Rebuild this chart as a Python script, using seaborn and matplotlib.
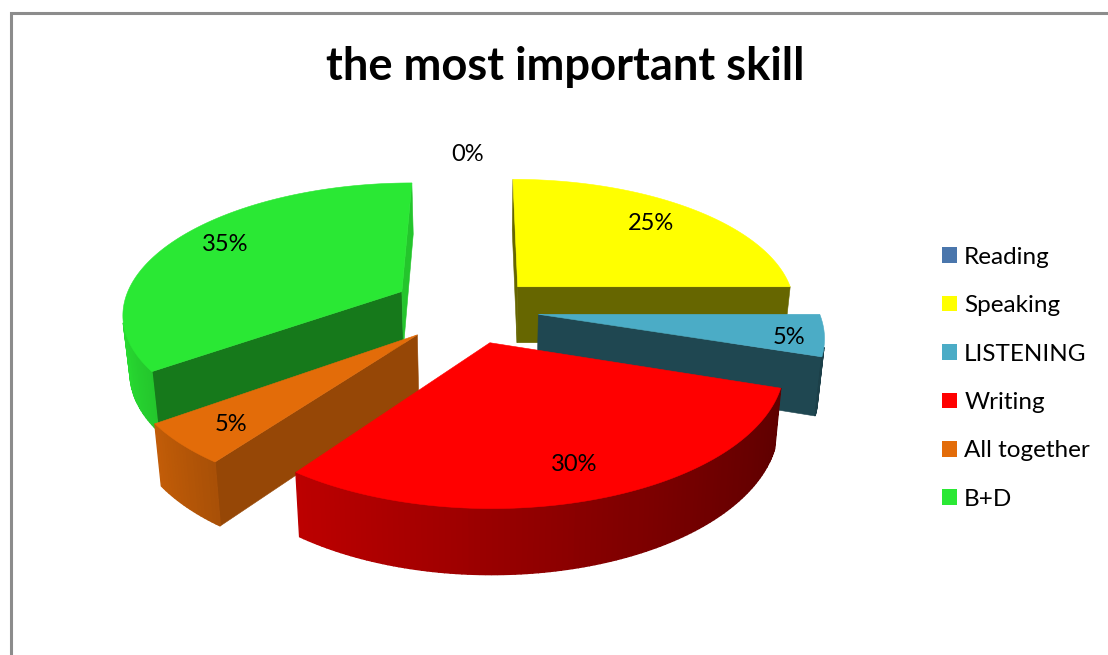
import numpy as np
import matplotlib
matplotlib.use("Agg")
import matplotlib.pyplot as plt
import seaborn as sns
from matplotlib.patches import Polygon, Patch

categories = ["Reading", "Speaking", "LISTENING", "Writing", "All together", "B+D"]
shares = [0, 25, 5, 30, 5, 35]
percent_labels = ["0%", "25%", "5%", "30%", "5%", "35%"]
title = "the most important skill"

# estilo
hex_colors = ["#4A76AC", "#FFFF00", "#4BACC6", "#FF0000", "#E36C09", "#2AE834"]
explode = [0.0, 0.23, 0.21, 0.245, 0.286, 0.32]
explode_turn = [0, -8, 0, 10, 4.5, 0]
wall_shade_ini = [0.5, 0.40, 0.41, 0.40, 0.66, 0.52]
wall_shade_fin = [0.5, 0.40, 0.41, 0.40, 0.66, 0.85]
label_xy = [(468, 154.5), (651, 223), (789, 337), (574, 464.5), (231, 424.5), (225, 244.5)]
draw_order = [1, 5, 2, 4, 3]

# camara de la tarta 3D, en pixeles
CX, CY = 480, 310
RX, RY = 280, 130
PERSP = 0.15
DEPTH = 57
SHRINK = 0.98


def proyectar(x, y, abajo=False):
    p = 1 / (1 + PERSP * y)
    sx = RX * x * p
    sy = -RY * y * p
    if abajo:
        return CX + sx * SHRINK, CY + sy * SHRINK + DEPTH * p
    return CX + sx, CY + sy


def area(pts):
    pts = np.array(pts)
    x, y = pts[:, 0], pts[:, 1]
    return np.sum(x * np.roll(y, -1) - np.roll(x, -1) * y)


def oscurecer(color, f):
    return tuple(c * f for c in color)


def dibujar_porcion(ax, color, ini, fin, expl, giro, sombra_ini, sombra_fin):
    mid = (ini + fin) / 2 + np.radians(giro)
    ex, ey = expl * np.sin(mid), expl * np.cos(mid)
    angulos = np.linspace(ini, fin, max(int(np.degrees(fin - ini)), 2) + 1)
    arriba = [proyectar(ex + np.sin(a), ey + np.cos(a)) for a in angulos]
    abajo = [proyectar(ex + np.sin(a), ey + np.cos(a), True) for a in angulos]
    apex = proyectar(ex, ey)
    apex_abajo = proyectar(ex, ey, True)

    # cortes rectos
    for cuad, sombra in (([apex, arriba[0], abajo[0], apex_abajo], sombra_ini),
                         ([arriba[-1], apex, apex_abajo, abajo[-1]], sombra_fin)):
        if area(cuad) < 0:
            c = oscurecer(color, sombra)
            ax.add_patch(Polygon(cuad, closed=True, facecolor=c, edgecolor=c, lw=0.4))

    # pared exterior con degradado
    for i in range(len(angulos) - 1):
        cuad = [arriba[i], arriba[i + 1], abajo[i + 1], abajo[i]]
        if area(cuad) < 0:
            s = np.sin((angulos[i] + angulos[i + 1]) / 2)
            c = oscurecer(color, np.interp(s, [-1, -0.59, 1], [0.95, 0.74, 0.36]))
            ax.add_patch(Polygon(cuad, closed=True, facecolor=c, edgecolor=c, lw=1.0))

    ax.add_patch(Polygon([apex] + arriba, closed=True, facecolor=color, edgecolor=color, lw=0.4))


sns.set_theme(style="white")
plt.rcParams["font.family"] = ["Lato", "DejaVu Sans"]
palette = sns.color_palette(hex_colors)

fig, ax = plt.subplots(figsize=(11.08, 6.55), dpi=100)
fig.subplots_adjust(left=0, right=1, bottom=0, top=1)
ax.set_xlim(0, 1108)
ax.set_ylim(655, 0)
ax.axis("off")

# marco gris del grafico
ax.plot([11, 11, 1108], [655, 13, 13], color="#8C8C8C", lw=2.2, solid_joinstyle="miter")

bordes = np.cumsum([0] + shares) / sum(shares) * 2 * np.pi
for i in draw_order:
    dibujar_porcion(ax, palette[i], bordes[i], bordes[i + 1], explode[i], explode_turn[i],
                    wall_shade_ini[i], wall_shade_fin[i])

for txt, (x, y) in zip(percent_labels, label_xy):
    ax.text(x, y, txt, ha="center", va="center", fontsize=17, color="black")

ax.text(565, 67.5, title, ha="center", va="center", fontsize=32.6, fontweight="bold", color="black")

handles = [Patch(facecolor=c, edgecolor="none") for c in palette]
ax.legend(handles, categories, loc="center left", bbox_to_anchor=(0.85, 0.4225), frameon=False,
          fontsize=17.5, labelcolor="black", handlelength=0.62, handleheight=0.62, handletextpad=0.3,
          labelspacing=1.13, borderpad=0, borderaxespad=0)

plt.savefig("out.png", dpi=100)
plt.close()
